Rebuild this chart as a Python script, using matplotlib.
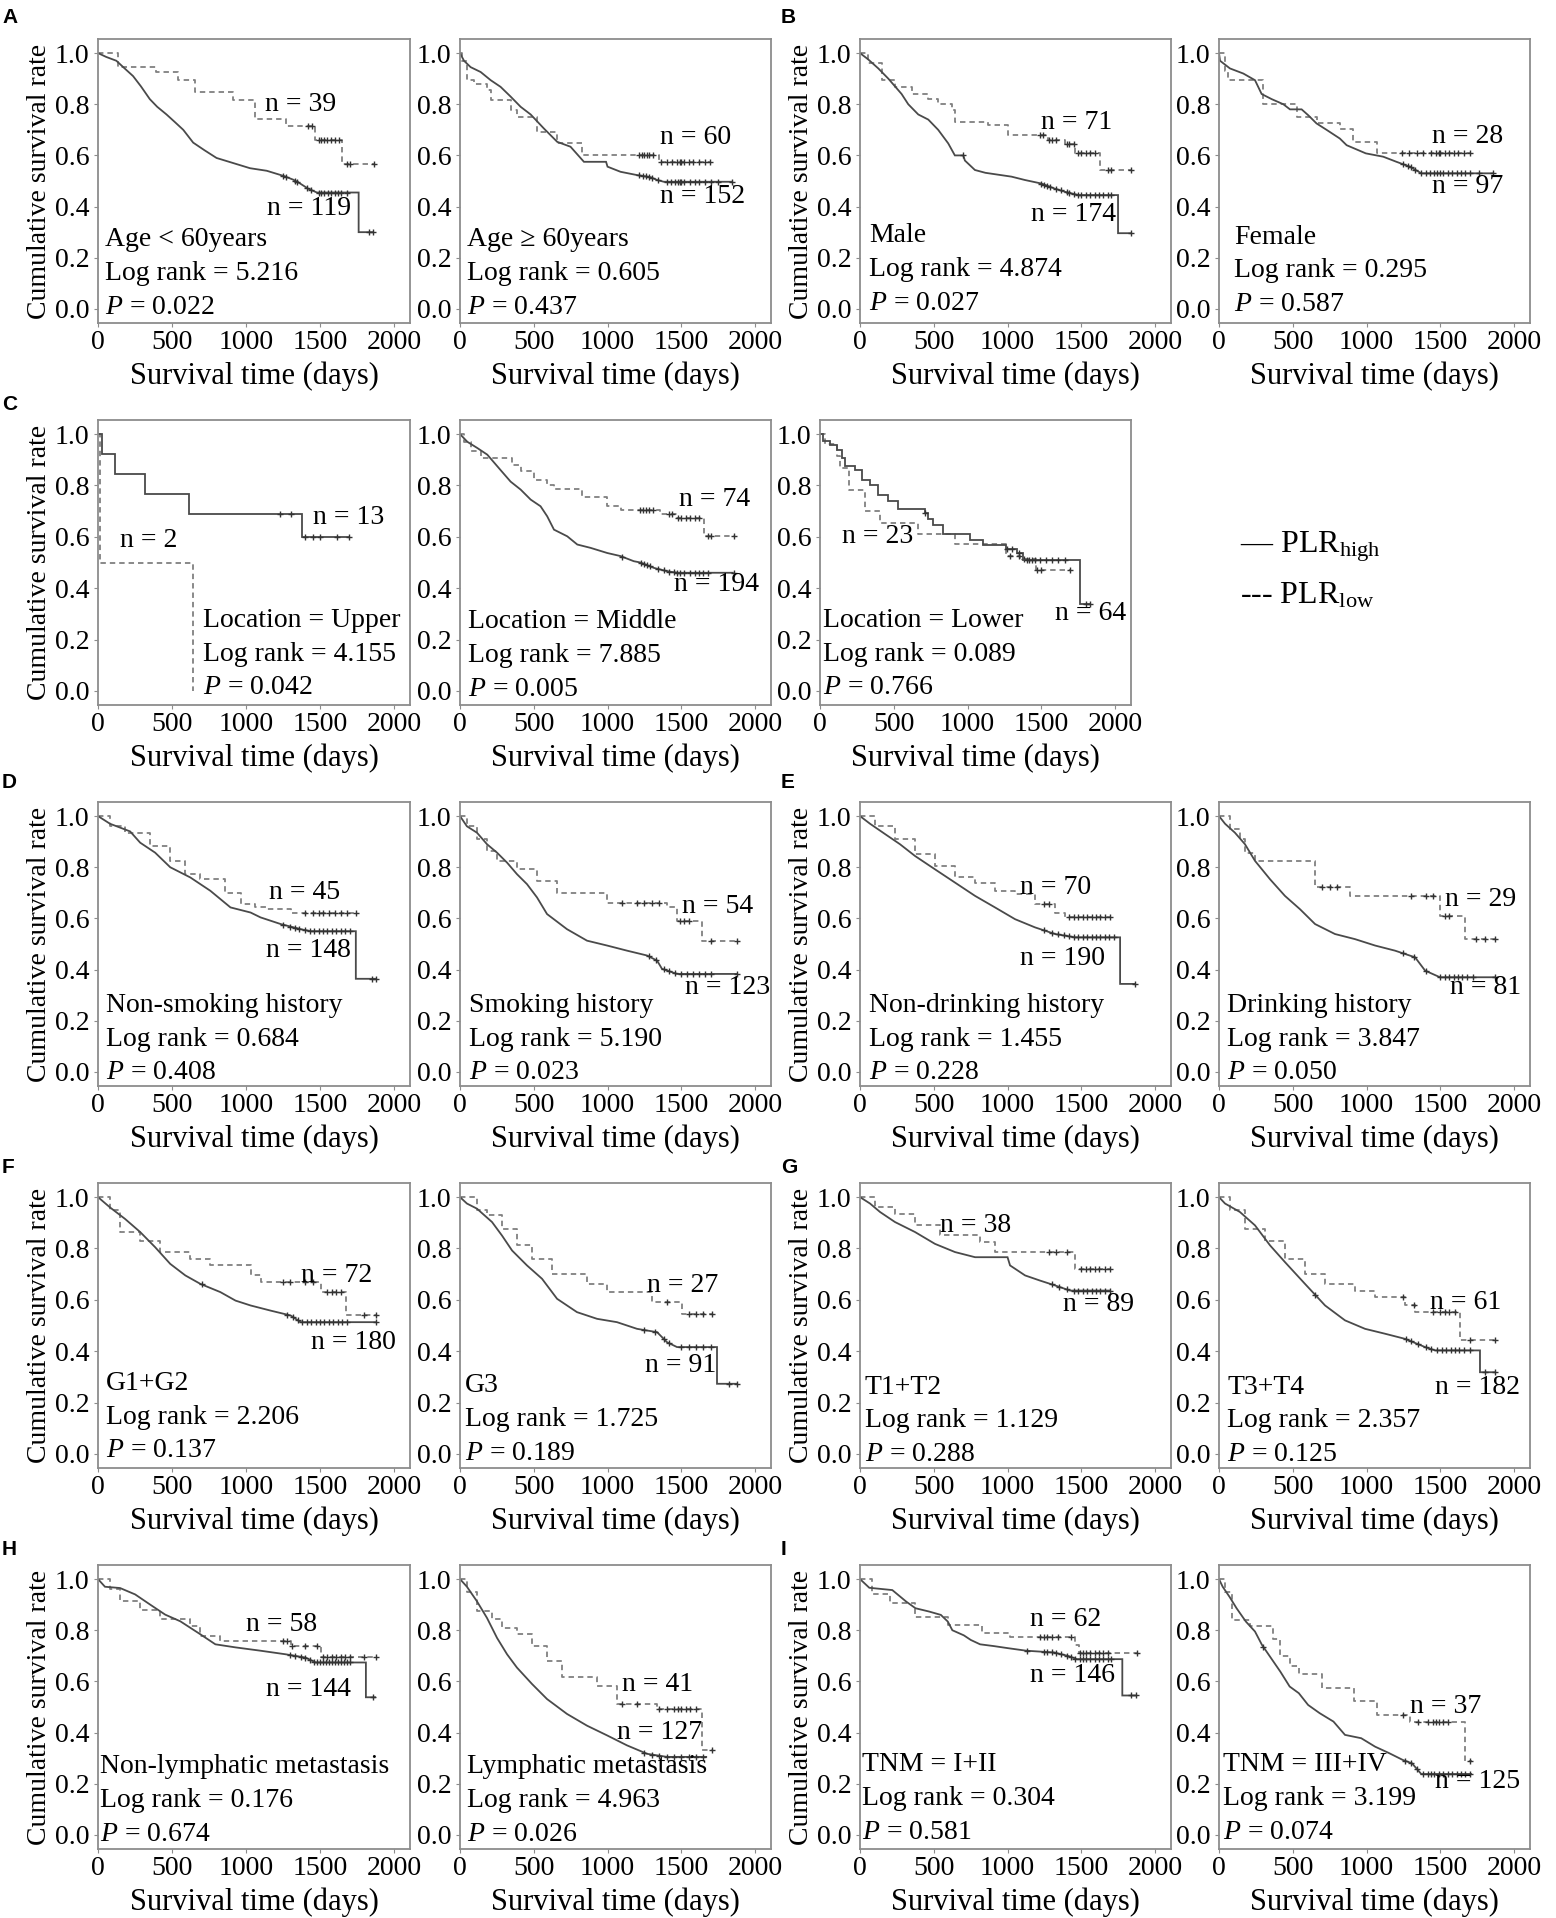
import numpy as np
import matplotlib
matplotlib.use("Agg")
import matplotlib.pyplot as plt

plt.rcParams['font.family'] = ['Liberation Serif', 'DejaVu Serif']
plt.rcParams['mathtext.fontset'] = 'custom'
plt.rcParams['mathtext.rm'] = 'Liberation Serif'
plt.rcParams['mathtext.it'] = 'Liberation Serif:italic'

# ---------------- data (time in days, cumulative survival) ----------------
# "hi" = PLR high (solid, read as polyline vertices unless noted),
# "lo" = PLR low (dashed, read as step drops: value from that time on)
# *_c = censoring times

# A1: Age < 60 years
A1_hi_t = [0, 55, 124, 180, 237, 290, 350, 400, 463, 520, 576, 643, 720, 801, 914, 1027, 1140, 1253, 1320, 1366, 1420, 1479, 1761, 1761, 1862]
A1_hi_s = [1.0, 0.985, 0.97, 0.94, 0.91, 0.87, 0.82, 0.79, 0.76, 0.73, 0.70, 0.65, 0.62, 0.59, 0.57, 0.55, 0.54, 0.52, 0.505, 0.49, 0.47, 0.455, 0.455, 0.30, 0.30]
A1_hi_c = [1253, 1271, 1330, 1345, 1410, 1440, 1490, 1510, 1530, 1555, 1575, 1600, 1620, 1645, 1680, 1830, 1860]
A1_lo_t = [0, 135, 395, 542, 655, 914, 1061, 1271, 1467, 1648, 1862]
A1_lo_s = [1.0, 0.945, 0.926, 0.896, 0.848, 0.818, 0.744, 0.716, 0.66, 0.566, 0.566]
A1_lo_c = [1420, 1445, 1490, 1510, 1530, 1550, 1575, 1600, 1625, 1680, 1700, 1862]

# A2: Age >= 60 years
A2_hi_t = [0, 27, 72, 140, 208, 275, 343, 411, 479, 569, 659, 749, 840, 990, 1000, 1088, 1201, 1290, 1336, 1381, 1844]
A2_hi_s = [1.0, 0.97, 0.945, 0.926, 0.894, 0.868, 0.83, 0.79, 0.76, 0.705, 0.653, 0.634, 0.575, 0.575, 0.556, 0.536, 0.523, 0.515, 0.504, 0.497, 0.497]
A2_hi_c = [1215, 1240, 1260, 1280, 1300, 1340, 1400, 1430, 1460, 1480, 1490, 1500, 1520, 1560, 1590, 1620, 1660, 1700, 1750, 1844]
A2_lo_t = [0, 16, 50, 95, 185, 208, 343, 388, 524, 659, 829, 1348, 1697]
A2_lo_s = [1.0, 0.97, 0.894, 0.88, 0.855, 0.815, 0.777, 0.75, 0.69, 0.647, 0.601, 0.575, 0.575]
A2_lo_c = [1215, 1235, 1250, 1265, 1280, 1310, 1360, 1400, 1440, 1470, 1490, 1500, 1520, 1550, 1580, 1620, 1660, 1697]

# B1: Male
B1_hi_t = [0, 56, 124, 192, 282, 327, 395, 463, 530, 598, 643, 700, 711, 779, 850, 1027, 1117, 1230, 1321, 1388, 1479, 1749, 1749, 1840]
B1_hi_s = [1.0, 0.975, 0.94, 0.90, 0.84, 0.80, 0.76, 0.74, 0.70, 0.647, 0.60, 0.60, 0.58, 0.543, 0.532, 0.517, 0.504, 0.49, 0.47, 0.458, 0.445, 0.445, 0.296, 0.296]
B1_hi_c = [700, 1230, 1250, 1270, 1290, 1330, 1360, 1400, 1420, 1450, 1480, 1500, 1530, 1560, 1590, 1620, 1650, 1680, 1700, 1840]
B1_lo_t = [0, 56, 147, 237, 350, 463, 530, 621, 643, 869, 1000, 1275, 1388, 1456, 1625, 1840]
B1_lo_s = [1.0, 0.96, 0.894, 0.868, 0.84, 0.82, 0.80, 0.777, 0.73, 0.718, 0.68, 0.66, 0.644, 0.61, 0.543, 0.543]
B1_lo_c = [1220, 1240, 1280, 1300, 1330, 1400, 1420, 1450, 1480, 1500, 1530, 1560, 1590, 1680, 1700, 1840]

# B2: Female
B2_hi_t = [0, 7, 74, 165, 244, 289, 357, 436, 481, 560, 605, 661, 729, 819, 865, 995, 1113, 1203, 1293, 1372, 1858]
B2_hi_s = [1.0, 0.97, 0.94, 0.92, 0.894, 0.84, 0.82, 0.80, 0.78, 0.78, 0.757, 0.725, 0.70, 0.666, 0.64, 0.608, 0.595, 0.575, 0.556, 0.53, 0.53]
B2_hi_c = [1250, 1280, 1300, 1330, 1370, 1400, 1430, 1460, 1480, 1500, 1520, 1550, 1580, 1610, 1640, 1670, 1700, 1760, 1858]
B2_lo_t = [0, 41, 63, 300, 526, 661, 819, 910, 1068, 1700]
B2_lo_s = [1.0, 0.93, 0.894, 0.80, 0.75, 0.725, 0.705, 0.653, 0.608, 0.608]
B2_lo_c = [1240, 1290, 1340, 1380, 1440, 1470, 1490, 1500, 1530, 1560, 1590, 1620, 1660, 1700]

# C1: Location = Upper (both as steps)
C1_hi_t = [0, 29, 113, 316, 614, 1381, 1700]
C1_hi_s = [1.0, 0.924, 0.846, 0.767, 0.69, 0.599, 0.599]
C1_hi_c = [1230, 1302, 1400, 1450, 1497, 1614, 1693]
C1_lo_t = [0, 11, 639]
C1_lo_s = [1.0, 0.50, 0.0]
C1_lo_c = []

# C2: Location = Middle
C2_hi_t = [0, 50, 117, 185, 275, 343, 411, 479, 546, 591, 637, 727, 795, 885, 998, 1088, 1178, 1223, 1314, 1404, 1472, 1855]
C2_hi_s = [1.0, 0.97, 0.946, 0.92, 0.86, 0.815, 0.784, 0.745, 0.719, 0.68, 0.628, 0.602, 0.57, 0.557, 0.537, 0.525, 0.505, 0.50, 0.479, 0.466, 0.46, 0.46]
C2_hi_c = [1100, 1230, 1250, 1270, 1290, 1340, 1380, 1420, 1450, 1470, 1490, 1520, 1560, 1590, 1620, 1650, 1680, 1855]
C2_lo_t = [0, 27, 72, 140, 354, 411, 501, 591, 637, 829, 998, 1088, 1359, 1472, 1652, 1855]
C2_lo_s = [1.0, 0.97, 0.933, 0.907, 0.88, 0.855, 0.822, 0.80, 0.785, 0.757, 0.72, 0.705, 0.687, 0.673, 0.602, 0.602]
C2_lo_c = [1220, 1240, 1260, 1280, 1310, 1420, 1440, 1480, 1500, 1530, 1560, 1590, 1620, 1680, 1700, 1855]

# C3: Location = Lower (both as steps)
C3_hi_t = [0, 23, 68, 113, 147, 169, 237, 282, 339, 395, 463, 530, 711, 734, 767, 835, 1016, 1106, 1264, 1332, 1377, 1761, 1840]
C3_hi_s = [1.0, 0.975, 0.958, 0.94, 0.907, 0.874, 0.86, 0.822, 0.80, 0.764, 0.74, 0.707, 0.694, 0.67, 0.645, 0.612, 0.587, 0.567, 0.554, 0.536, 0.51, 0.337, 0.337]
C3_hi_c = [711, 1270, 1300, 1350, 1400, 1420, 1440, 1460, 1490, 1530, 1570, 1610, 1660, 1800, 1830]
C3_lo_t = [0, 34, 113, 135, 199, 305, 406, 666, 914, 1264, 1354, 1467, 1693]
C3_lo_s = [1.0, 0.96, 0.913, 0.868, 0.784, 0.702, 0.655, 0.61, 0.572, 0.527, 0.515, 0.47, 0.47]
C3_lo_c = [1290, 1350, 1380, 1470, 1500, 1693]

# D1: Non-smoking history
D1_hi_t = [0, 81, 217, 285, 386, 488, 624, 759, 895, 1031, 1098, 1234, 1369, 1437, 1742, 1742, 1878]
D1_hi_s = [1.0, 0.97, 0.94, 0.896, 0.857, 0.80, 0.76, 0.708, 0.643, 0.623, 0.604, 0.578, 0.558, 0.55, 0.55, 0.364, 0.364]
D1_hi_c = [1250, 1300, 1330, 1360, 1400, 1430, 1460, 1490, 1520, 1550, 1580, 1610, 1640, 1670, 1700, 1850, 1878]
D1_lo_t = [0, 81, 183, 353, 488, 590, 692, 861, 963, 1064, 1132, 1302, 1742]
D1_lo_s = [1.0, 0.96, 0.935, 0.883, 0.825, 0.773, 0.753, 0.70, 0.656, 0.643, 0.636, 0.62, 0.62]
D1_lo_c = [1400, 1450, 1490, 1520, 1560, 1600, 1640, 1680, 1742]

# D2: Smoking history
D2_hi_t = [0, 47, 115, 183, 251, 319, 386, 454, 522, 590, 725, 861, 997, 1132, 1268, 1336, 1369, 1471, 1878]
D2_hi_s = [1.0, 0.96, 0.935, 0.89, 0.857, 0.818, 0.773, 0.734, 0.682, 0.617, 0.558, 0.513, 0.494, 0.474, 0.455, 0.435, 0.403, 0.383, 0.383]
D2_hi_c = [1280, 1330, 1380, 1420, 1460, 1500, 1540, 1580, 1620, 1660, 1700, 1878]
D2_lo_t = [0, 47, 115, 183, 251, 386, 522, 658, 997, 1403, 1471, 1641, 1878]
D2_lo_s = [1.0, 0.96, 0.91, 0.864, 0.825, 0.792, 0.747, 0.70, 0.66, 0.643, 0.591, 0.513, 0.513]
D2_lo_c = [1100, 1200, 1250, 1300, 1350, 1490, 1520, 1550, 1700, 1878]

# E1: Non-drinking history
E1_hi_t = [0, 68, 169, 271, 373, 508, 644, 780, 915, 1051, 1186, 1322, 1458, 1763, 1763, 1864]
E1_hi_s = [1.0, 0.97, 0.93, 0.89, 0.844, 0.792, 0.74, 0.688, 0.643, 0.597, 0.565, 0.539, 0.526, 0.526, 0.344, 0.344]
E1_hi_c = [1250, 1300, 1340, 1380, 1420, 1450, 1480, 1510, 1540, 1570, 1600, 1630, 1660, 1690, 1720, 1864]
E1_lo_t = [0, 102, 237, 373, 508, 644, 780, 915, 1051, 1186, 1322, 1390, 1695]
E1_lo_s = [1.0, 0.96, 0.91, 0.851, 0.805, 0.76, 0.74, 0.708, 0.695, 0.656, 0.623, 0.604, 0.604]
E1_lo_c = [1250, 1280, 1420, 1450, 1480, 1510, 1540, 1570, 1600, 1630, 1660, 1695]

# E2: Drinking history
E2_hi_t = [0, 41, 108, 176, 244, 346, 447, 549, 651, 786, 922, 1058, 1193, 1329, 1397, 1498, 1871]
E2_hi_s = [1.0, 0.97, 0.935, 0.89, 0.825, 0.753, 0.688, 0.636, 0.578, 0.539, 0.519, 0.494, 0.474, 0.448, 0.396, 0.37, 0.37]
E2_hi_c = [1250, 1320, 1400, 1500, 1530, 1560, 1590, 1620, 1650, 1680, 1720, 1871]
E2_lo_t = [0, 75, 142, 176, 244, 651, 888, 1498, 1668, 1871]
E2_lo_s = [1.0, 0.95, 0.91, 0.857, 0.825, 0.721, 0.688, 0.61, 0.519, 0.519]
E2_lo_c = [700, 750, 800, 1300, 1400, 1450, 1530, 1560, 1740, 1800, 1871]

# F1: G1+G2
F1_hi_t = [0, 81, 183, 285, 386, 488, 590, 692, 827, 929, 1031, 1166, 1302, 1369, 1878]
F1_hi_s = [1.0, 0.96, 0.915, 0.864, 0.805, 0.74, 0.695, 0.662, 0.63, 0.597, 0.578, 0.558, 0.539, 0.513, 0.513]
F1_hi_c = [700, 1280, 1320, 1350, 1380, 1410, 1440, 1470, 1500, 1530, 1560, 1590, 1620, 1650, 1680, 1878]
F1_lo_t = [0, 81, 149, 285, 420, 624, 759, 1031, 1098, 1505, 1675, 1878]
F1_lo_s = [1.0, 0.95, 0.864, 0.83, 0.786, 0.76, 0.734, 0.695, 0.669, 0.63, 0.539, 0.539]
F1_lo_c = [1250, 1300, 1400, 1450, 1550, 1580, 1610, 1640, 1800, 1878]

# F2: G3
F2_hi_t = [0, 47, 115, 217, 285, 353, 454, 556, 658, 793, 929, 1064, 1200, 1336, 1403, 1471, 1742, 1742, 1878]
F2_hi_s = [1.0, 0.975, 0.955, 0.903, 0.85, 0.792, 0.734, 0.682, 0.604, 0.552, 0.526, 0.513, 0.487, 0.474, 0.435, 0.416, 0.416, 0.273, 0.273]
F2_hi_c = [1250, 1320, 1380, 1420, 1500, 1550, 1600, 1650, 1700, 1820, 1878]
F2_lo_t = [0, 115, 183, 285, 386, 488, 624, 861, 997, 1302, 1505, 1708]
F2_lo_s = [1.0, 0.95, 0.929, 0.877, 0.812, 0.76, 0.701, 0.662, 0.63, 0.591, 0.545, 0.545]
F2_lo_c = [1400, 1550, 1600, 1650, 1708]

# G1: T1+T2
G1_hi_t = [0, 68, 136, 237, 373, 508, 644, 780, 1000, 1017, 1119, 1220, 1322, 1424, 1695]
G1_hi_s = [1.0, 0.975, 0.942, 0.903, 0.864, 0.818, 0.786, 0.766, 0.766, 0.734, 0.695, 0.675, 0.656, 0.636, 0.636]
G1_hi_c = [1300, 1350, 1400, 1450, 1480, 1510, 1540, 1570, 1600, 1630, 1660, 1695]
G1_lo_t = [0, 102, 237, 373, 542, 814, 915, 1458, 1695]
G1_lo_s = [1.0, 0.96, 0.935, 0.89, 0.851, 0.825, 0.786, 0.721, 0.721]
G1_lo_c = [1280, 1330, 1400, 1500, 1530, 1560, 1590, 1620, 1660, 1695]

# G2: T3+T4
G2_hi_t = [0, 41, 142, 244, 346, 447, 583, 719, 854, 990, 1125, 1261, 1397, 1464, 1769, 1769, 1871]
G2_hi_s = [1.0, 0.975, 0.942, 0.89, 0.812, 0.747, 0.662, 0.578, 0.52, 0.487, 0.468, 0.448, 0.416, 0.403, 0.403, 0.318, 0.318]
G2_hi_c = [650, 1270, 1300, 1350, 1400, 1440, 1480, 1510, 1540, 1570, 1600, 1630, 1660, 1700, 1800, 1871]
G2_lo_t = [0, 75, 176, 312, 447, 583, 719, 922, 1058, 1261, 1329, 1634, 1871]
G2_lo_s = [1.0, 0.95, 0.877, 0.831, 0.76, 0.701, 0.662, 0.636, 0.61, 0.578, 0.552, 0.442, 0.442]
G2_lo_c = [1250, 1320, 1450, 1500, 1530, 1560, 1600, 1700, 1871]

# H1: Non-lymphatic metastasis
H1_hi_t = [0, 47, 149, 251, 353, 454, 556, 692, 793, 929, 1098, 1268, 1403, 1471, 1810, 1810, 1878]
H1_hi_s = [1.0, 0.97, 0.965, 0.94, 0.90, 0.861, 0.835, 0.784, 0.745, 0.733, 0.72, 0.706, 0.693, 0.674, 0.674, 0.538, 0.538]
H1_hi_c = [1300, 1330, 1370, 1400, 1430, 1460, 1480, 1500, 1520, 1540, 1560, 1580, 1600, 1620, 1640, 1660, 1680, 1700, 1860]
H1_lo_t = [0, 81, 149, 285, 420, 624, 692, 827, 1302, 1505, 1878]
H1_lo_s = [1.0, 0.96, 0.913, 0.88, 0.842, 0.816, 0.777, 0.758, 0.74, 0.695, 0.695]
H1_lo_c = [1250, 1280, 1310, 1400, 1480, 1520, 1550, 1580, 1610, 1640, 1670, 1700, 1800, 1878]

# H2: Lymphatic metastasis
H2_hi_t = [0, 47, 115, 183, 251, 319, 386, 488, 590, 725, 861, 997, 1132, 1268, 1403, 1675]
H2_hi_s = [1.0, 0.97, 0.913, 0.848, 0.77, 0.706, 0.654, 0.59, 0.531, 0.473, 0.427, 0.389, 0.35, 0.317, 0.305, 0.305]
H2_hi_c = [1250, 1300, 1350, 1400, 1450, 1500, 1550, 1600, 1650]
H2_lo_t = [0, 47, 115, 217, 285, 386, 488, 590, 692, 929, 1064, 1336, 1641, 1708]
H2_lo_s = [1.0, 0.95, 0.874, 0.842, 0.81, 0.784, 0.738, 0.68, 0.616, 0.584, 0.512, 0.492, 0.33, 0.33]
H2_lo_c = [1100, 1200, 1350, 1400, 1450, 1480, 1500, 1530, 1560, 1600, 1708]

# I1: TNM = I+II
I1_hi_t = [0, 63, 219, 313, 376, 469, 548, 595, 626, 704, 751, 814, 908, 1002, 1127, 1315, 1408, 1471, 1778, 1778, 1878]
I1_hi_s = [1.0, 0.966, 0.957, 0.912, 0.886, 0.873, 0.86, 0.834, 0.80, 0.78, 0.762, 0.745, 0.738, 0.73, 0.72, 0.713, 0.70, 0.687, 0.687, 0.545, 0.545]
I1_hi_c = [1130, 1250, 1270, 1300, 1330, 1360, 1400, 1430, 1460, 1490, 1510, 1530, 1560, 1590, 1620, 1650, 1680, 1700, 1840, 1870]
I1_lo_t = [0, 78, 203, 376, 595, 829, 1017, 1455, 1487, 1878]
I1_lo_s = [1.0, 0.94, 0.905, 0.853, 0.82, 0.79, 0.772, 0.742, 0.713, 0.713]
I1_lo_c = [1220, 1250, 1270, 1300, 1340, 1430, 1490, 1510, 1530, 1560, 1590, 1620, 1650, 1680, 1878]

# I2: TNM = III+IV
I2_hi_t = [0, 25, 72, 119, 182, 244, 291, 354, 416, 479, 541, 604, 682, 776, 854, 964, 1058, 1152, 1246, 1308, 1371, 1715]
I2_hi_s = [1.0, 0.97, 0.93, 0.886, 0.834, 0.795, 0.743, 0.69, 0.638, 0.58, 0.554, 0.508, 0.476, 0.443, 0.391, 0.378, 0.345, 0.32, 0.293, 0.28, 0.238, 0.238]
I2_hi_c = [300, 1260, 1300, 1340, 1380, 1420, 1440, 1460, 1490, 1520, 1550, 1580, 1610, 1640, 1670, 1700]
I2_lo_t = [0, 41, 88, 213, 369, 416, 479, 541, 698, 917, 1074, 1293, 1668, 1715]
I2_lo_s = [1.0, 0.95, 0.84, 0.817, 0.765, 0.70, 0.66, 0.628, 0.576, 0.524, 0.469, 0.44, 0.29, 0.29]
I2_lo_c = [1250, 1350, 1420, 1450, 1470, 1490, 1520, 1550, 1700]

# subgroup labels, statistics and group sizes
subgroups = ["Age < 60years", "Age \u2265 60years", "Male", "Female",
             "Location = Upper", "Location = Middle", "Location = Lower",
             "Non-smoking history", "Smoking history", "Non-drinking history", "Drinking history",
             "G1+G2", "G3", "T1+T2", "T3+T4",
             "Non-lymphatic metastasis", "Lymphatic metastasis", "TNM = I+II", "TNM = III+IV"]
log_rank = ["5.216", "0.605", "4.874", "0.295", "4.155", "7.885", "0.089",
            "0.684", "5.190", "1.455", "3.847", "2.206", "1.725", "1.129", "2.357",
            "0.176", "4.963", "0.304", "3.199"]
p_values = ["0.022", "0.437", "0.027", "0.587", "0.042", "0.005", "0.766",
            "0.408", "0.023", "0.228", "0.050", "0.137", "0.189", "0.288", "0.125",
            "0.674", "0.026", "0.581", "0.074"]
n_high = [119, 152, 174, 97, 13, 194, 64, 148, 123, 190, 81, 180, 91, 89, 182, 144, 127, 146, 125]
n_low = [39, 60, 71, 28, 2, 74, 23, 45, 54, 70, 29, 72, 27, 38, 61, 58, 41, 62, 37]

x_ticks = [0, 500, 1000, 1500, 2000]
y_ticks = [0.0, 0.2, 0.4, 0.6, 0.8, 1.0]

# ---------------- layout ----------------
W, H = 1556, 1918
fig = plt.figure(figsize=(W / 100, H / 100), dpi=100)

ROWS = [(39, 323), (420, 705), (802, 1086), (1183, 1468), (1565, 1849)]
COLS = [(98, 410), (460, 771), (860, 1171), (1219, 1530)]
C3_COL = (820, 1131)

curves = {
    'A1': (A1_hi_t, A1_hi_s, A1_hi_c, A1_lo_t, A1_lo_s, A1_lo_c),
    'A2': (A2_hi_t, A2_hi_s, A2_hi_c, A2_lo_t, A2_lo_s, A2_lo_c),
    'B1': (B1_hi_t, B1_hi_s, B1_hi_c, B1_lo_t, B1_lo_s, B1_lo_c),
    'B2': (B2_hi_t, B2_hi_s, B2_hi_c, B2_lo_t, B2_lo_s, B2_lo_c),
    'C1': (C1_hi_t, C1_hi_s, C1_hi_c, C1_lo_t, C1_lo_s, C1_lo_c),
    'C2': (C2_hi_t, C2_hi_s, C2_hi_c, C2_lo_t, C2_lo_s, C2_lo_c),
    'C3': (C3_hi_t, C3_hi_s, C3_hi_c, C3_lo_t, C3_lo_s, C3_lo_c),
    'D1': (D1_hi_t, D1_hi_s, D1_hi_c, D1_lo_t, D1_lo_s, D1_lo_c),
    'D2': (D2_hi_t, D2_hi_s, D2_hi_c, D2_lo_t, D2_lo_s, D2_lo_c),
    'E1': (E1_hi_t, E1_hi_s, E1_hi_c, E1_lo_t, E1_lo_s, E1_lo_c),
    'E2': (E2_hi_t, E2_hi_s, E2_hi_c, E2_lo_t, E2_lo_s, E2_lo_c),
    'F1': (F1_hi_t, F1_hi_s, F1_hi_c, F1_lo_t, F1_lo_s, F1_lo_c),
    'F2': (F2_hi_t, F2_hi_s, F2_hi_c, F2_lo_t, F2_lo_s, F2_lo_c),
    'G1': (G1_hi_t, G1_hi_s, G1_hi_c, G1_lo_t, G1_lo_s, G1_lo_c),
    'G2': (G2_hi_t, G2_hi_s, G2_hi_c, G2_lo_t, G2_lo_s, G2_lo_c),
    'H1': (H1_hi_t, H1_hi_s, H1_hi_c, H1_lo_t, H1_lo_s, H1_lo_c),
    'H2': (H2_hi_t, H2_hi_s, H2_hi_c, H2_lo_t, H2_lo_s, H2_lo_c),
    'I1': (I1_hi_t, I1_hi_s, I1_hi_c, I1_lo_t, I1_lo_s, I1_lo_c),
    'I2': (I2_hi_t, I2_hi_s, I2_hi_c, I2_lo_t, I2_lo_s, I2_lo_c),
}
order = ['A1', 'A2', 'B1', 'B2', 'C1', 'C2', 'C3', 'D1', 'D2', 'E1', 'E2',
         'F1', 'F2', 'G1', 'G2', 'H1', 'H2', 'I1', 'I2']
STEP_HI = {'C1', 'C3'}   # panels whose solid curve was read as steps

# layout per panel: (row, col box, has ylabel, text x frac, text first baseline,
#                    n_low position (t, s), n_high position (t, s))
layout = {
    'A1': (0, COLS[0], True, 0.023, 0.244, (1129, 0.773), (1140, 0.368)),
    'A2': (0, COLS[1], False, 0.023, 0.244, (1354, 0.644), (1354, 0.413)),
    'B1': (0, COLS[2], True, 0.03, 0.26, (1226, 0.703), (1158, 0.342)),
    'B2': (0, COLS[3], False, 0.048, 0.255, (1447, 0.647), (1447, 0.452)),
    'C1': (1, COLS[0], True, 0.338, 0.25, (151, 0.56), (1456, 0.648)),
    'C2': (1, COLS[1], False, 0.025, 0.246, (1483, 0.719), (1449, 0.389)),
    'C3': (1, C3_COL, False, 0.01, 0.25, (147, 0.576), (1591, 0.278)),
    'D1': (2, COLS[0], True, 0.025, 0.235, (1153, 0.675), (1132, 0.448)),
    'D2': (2, COLS[1], False, 0.03, 0.235, (1505, 0.623), (1525, 0.305)),
    'E1': (2, COLS[2], True, 0.03, 0.235, (1085, 0.695), (1085, 0.416)),
    'E2': (2, COLS[3], False, 0.026, 0.235, (1532, 0.649), (1566, 0.305)),
    'F1': (3, COLS[0], True, 0.025, 0.25, (1369, 0.669), (1437, 0.409)),
    'F2': (3, COLS[1], False, 0.016, 0.24, (1268, 0.63), (1254, 0.318)),
    'G1': (3, COLS[2], True, 0.016, 0.235, (542, 0.864), (1376, 0.558)),
    'G2': (3, COLS[3], False, 0.026, 0.235, (1431, 0.565), (1464, 0.234)),
    'H1': (4, COLS[0], True, 0.006, 0.242, (997, 0.797), (1132, 0.544)),
    'H2': (4, COLS[1], False, 0.022, 0.242, (1098, 0.563), (1064, 0.376)),
    'I1': (4, COLS[2], True, 0.008, 0.25, (1152, 0.817), (1152, 0.596)),
    'I2': (4, COLS[3], False, 0.012, 0.25, (1293, 0.476), (1465, 0.185)),
}

SOLID = '#4a4a4a'
DASH = '#808080'
SPINE = '#8c8c8c'
FS = 20


def rect(x0, y0, x1, y1):
    return [x0 / W, 1 - y1 / H, (x1 - x0) / W, (y1 - y0) / H]


def value_at(t, s, c, steps):
    t = np.asarray(t, float)
    s = np.asarray(s, float)
    out = []
    for ci in c:
        i = int(np.searchsorted(t, ci, side='right') - 1)
        if steps or i + 1 >= len(t) or t[i + 1] <= t[i]:
            out.append(s[i])
        else:
            f = (ci - t[i]) / (t[i + 1] - t[i])
            out.append(s[i] + f * (s[i + 1] - s[i]))
    return out


def km(ax, t, s, cens, color, ls, steps):
    ax.plot(t, s, drawstyle='steps-post' if steps else 'default',
            color=color, lw=1.3, ls=ls, solid_capstyle='butt',
            solid_joinstyle='miter')
    if len(cens):
        ax.plot(cens, value_at(t, s, cens, steps), ls='none', marker='+',
                ms=5, mew=1.0, color='#333333')


for i, key in enumerate(order):
    row, (x0, x1), ylab, tx, ty, nlo_pos, nhi_pos = layout[key]
    y0, y1 = ROWS[row]
    ax = fig.add_axes(rect(x0, y0, x1, y1))
    hi_t, hi_s, hi_c, lo_t, lo_s, lo_c = curves[key]
    km(ax, lo_t, lo_s, lo_c, DASH, (0, (3, 2.2)), True)
    km(ax, hi_t, hi_s, hi_c, SOLID, '-', key in STEP_HI)
    ax.set_xlim(0, 2108)
    ax.set_ylim(-0.055, 1.055)
    ax.set_xticks(x_ticks)
    ax.set_yticks(y_ticks)
    ax.set_xticklabels([str(v) for v in x_ticks])
    ax.set_yticklabels(['%.1f' % v for v in y_ticks])
    ax.tick_params(direction='out', length=3, width=0.8, color=SPINE,
                   labelsize=FS, pad=2)
    ax.tick_params(axis='y', pad=3)
    for sp in ax.spines.values():
        sp.set_color(SPINE)
        sp.set_linewidth(1.3)
    ax.set_xlabel('Survival time (days)', fontsize=22, labelpad=5)
    if ylab:
        ax.set_ylabel('Cumulative survival rate', fontsize=20, labelpad=2)
    trans = ax.get_yaxis_transform()
    ax.text(tx, ty, subgroups[i], transform=trans, fontsize=FS, va='baseline')
    ax.text(tx, ty - 0.132, 'Log rank = ' + log_rank[i], transform=trans,
            fontsize=FS, va='baseline')
    ax.text(tx, ty - 0.264, '$P$ = ' + p_values[i], transform=trans,
            fontsize=FS, va='baseline')
    ax.text(nlo_pos[0], nlo_pos[1], 'n = %d' % n_low[i], fontsize=FS, va='baseline')
    ax.text(nhi_pos[0], nhi_pos[1], 'n = %d' % n_high[i], fontsize=FS, va='baseline')

# panel letters
letters = [('A', 2, 23), ('B', 781, 23), ('C', 2, 410), ('D', 2, 788), ('E', 781, 788),
           ('F', 2, 1173), ('G', 781, 1173), ('H', 2, 1555), ('I', 781, 1555)]
for lab, lx, ly in letters:
    fig.text(lx / W, 1 - ly / H, lab, fontsize=15, fontweight='bold',
             family=['Liberation Sans', 'DejaVu Sans'], va='baseline', ha='left')

# legend
fig.text(1240 / W, 1 - 553 / H, '\u2014 PLR$_{\\mathrm{high}}$', fontsize=23, va='baseline')
fig.text(1240 / W, 1 - 603 / H, '--- PLR$_{\\mathrm{low}}$', fontsize=23, va='baseline')

fig.savefig('out.png', dpi=100)
